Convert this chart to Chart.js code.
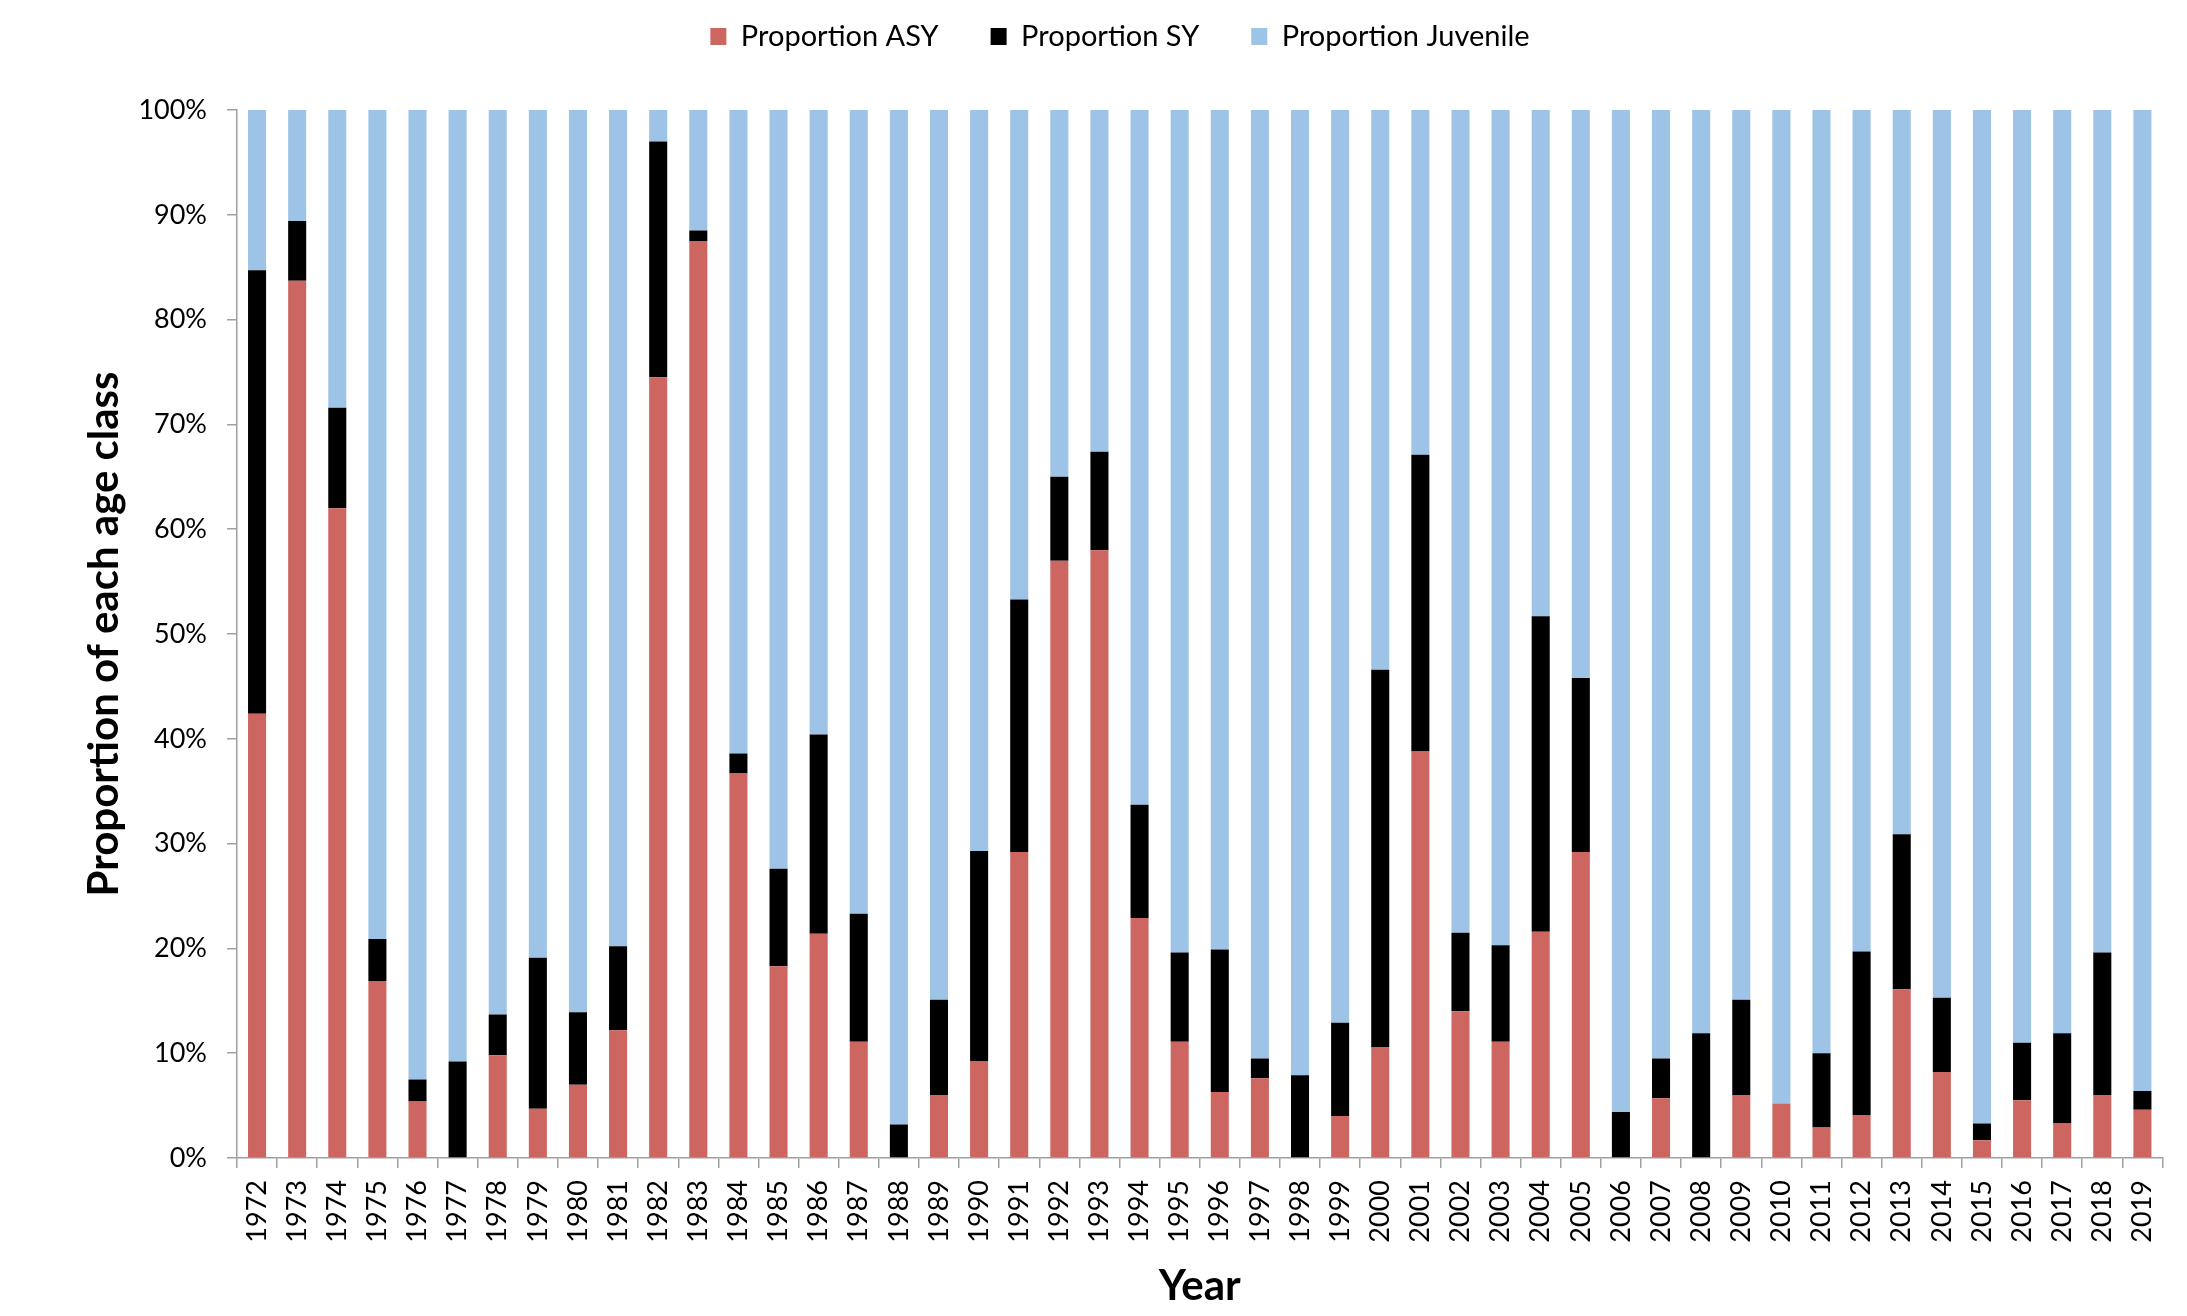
<!DOCTYPE html>
<html>
<head>
<meta charset="utf-8">
<title>Proportion of each age class</title>
<script src="https://cdn.jsdelivr.net/npm/chart.js@4.4.1/dist/chart.umd.min.js"></script>
<style>
  html, body { margin: 0; padding: 0; background: #fff; }
  #wrap { width: 2187px; height: 1316px; }
</style>
</head>
<body>
<div id="wrap"><canvas id="grafico" width="2187" height="1316"></canvas></div>
<script>
const anos = [
  "1972", "1973", "1974", "1975", "1976", "1977", "1978", "1979", "1980", "1981",
  "1982", "1983", "1984", "1985", "1986", "1987", "1988", "1989", "1990", "1991",
  "1992", "1993", "1994", "1995", "1996", "1997", "1998", "1999", "2000", "2001",
  "2002", "2003", "2004", "2005", "2006", "2007", "2008", "2009", "2010", "2011",
  "2012", "2013", "2014", "2015", "2016", "2017", "2018", "2019"
];

const propASY = [
  42.4, 83.7, 62.0, 16.9, 5.4, 0, 9.8, 4.7, 7.0, 12.2,
  74.5, 87.5, 36.7, 18.3, 21.4, 11.1, 0, 6.0, 9.2, 29.2,
  57.0, 58.0, 22.9, 11.1, 6.3, 7.6, 0, 4.0, 10.6, 38.8,
  14.0, 11.1, 21.6, 29.2, 0, 5.7, 0, 6.0, 5.2, 2.9,
  4.1, 16.1, 8.2, 1.7, 5.5, 3.3, 6.0, 4.6
];

const propSY = [
  42.3, 5.7, 9.6, 4.0, 2.1, 9.2, 3.9, 14.4, 6.9, 8.0,
  22.5, 1.0, 1.9, 9.3, 19.0, 12.2, 3.2, 9.1, 20.1, 24.1,
  8.0, 9.4, 10.8, 8.5, 13.6, 1.9, 7.9, 8.9, 36.0, 28.3,
  7.5, 9.2, 30.1, 16.6, 4.4, 3.8, 11.9, 9.1, 0, 7.1,
  15.6, 14.8, 7.1, 1.6, 5.5, 8.6, 13.6, 1.8
];

const propJuvenil = [
  15.3, 10.6, 28.4, 79.1, 92.5, 90.8, 86.3, 80.9, 86.1, 79.8,
  3.0, 11.5, 61.4, 72.4, 59.6, 76.7, 96.8, 84.9, 70.7, 46.7,
  35.0, 32.6, 66.3, 80.4, 80.1, 90.5, 92.1, 87.1, 53.4, 32.9,
  78.5, 79.7, 48.3, 54.2, 95.6, 90.5, 88.1, 84.9, 94.8, 90.0,
  80.3, 69.1, 84.7, 96.7, 89.0, 88.1, 80.4, 93.6
];

const ticksY = [0, 10, 20, 30, 40, 50, 60, 70, 80, 90, 100];

document.addEventListener("DOMContentLoaded", function () {

    const corEixo = "#a0a0a0";
    Chart.defaults.font.family = "Lato";
    Chart.defaults.color = "#000";

    // legend sits higher than chart.js would put it, and leaves a gap above the plot
    const margemLegenda = {
        id: "margemLegenda",
        beforeInit(chart) {
            const fitOriginal = chart.legend.fit;
            chart.legend.fit = function () {
                fitOriginal.bind(chart.legend)();
                this.height = 140;
            };
        }
    };

    const ctx = document.getElementById("grafico").getContext("2d");

    new Chart(ctx, {
        type: "bar",
        data: {
            labels: anos,
            datasets: [
                { label: "Proportion ASY", data: propASY, backgroundColor: "#cd6660" },
                { label: "Proportion SY", data: propSY, backgroundColor: "#000000" },
                { label: "Proportion Juvenile", data: propJuvenil, backgroundColor: "#9dc3e6" }
            ]
        },
        options: {
            responsive: false,
            animation: false,
            datasets: {
                bar: { categoryPercentage: 1, barPercentage: 0.45, borderWidth: 0 }
            },
            layout: { padding: { top: -30, left: 71, right: 18, bottom: 0 } },
            plugins: {
                legend: {
                    position: "top",
                    labels: {
                        font: { size: 29 },
                        boxWidth: 16,
                        boxHeight: 17,
                        padding: 52,
                        color: "#000"
                    }
                },
                tooltip: { enabled: false }
            },
            scales: {
                x: {
                    stacked: true,
                    afterFit: function (scale) { scale.height = 158; },
                    border: { display: true, color: corEixo, width: 1.5 },
                    grid: {
                        display: true,
                        drawOnChartArea: false,
                        drawTicks: true,
                        tickLength: 10,
                        color: corEixo,
                        lineWidth: 1.5
                    },
                    ticks: {
                        autoSkip: false,
                        minRotation: 90,
                        maxRotation: 90,
                        padding: 12,
                        font: { size: 27 },
                        color: "#000"
                    },
                    title: {
                        display: true,
                        text: "Year",
                        font: { size: 42, weight: "bold" },
                        color: "#000",
                        padding: { top: 0, bottom: 4 }
                    }
                },
                y: {
                    stacked: true,
                    min: 0,
                    max: 100,
                    afterFit: function (scale) { scale.width = 166; },
                    afterBuildTicks: function (scale) {
                        scale.ticks = ticksY.map(v => ({ value: v }));
                    },
                    border: { display: true, color: corEixo, width: 1.5 },
                    grid: {
                        display: true,
                        drawOnChartArea: false,
                        drawTicks: true,
                        tickLength: 10,
                        color: corEixo,
                        lineWidth: 1.5
                    },
                    ticks: {
                        padding: 20,
                        font: { size: 27 },
                        color: "#000",
                        callback: v => v + "%"
                    },
                    title: {
                        display: true,
                        text: "Proportion of each age class",
                        font: { size: 42, weight: "bold" },
                        color: "#000",
                        padding: { top: 8, bottom: 0 }
                    }
                }
            }
        },
        plugins: [margemLegenda]
    });

});
</script>
</body>
</html>
